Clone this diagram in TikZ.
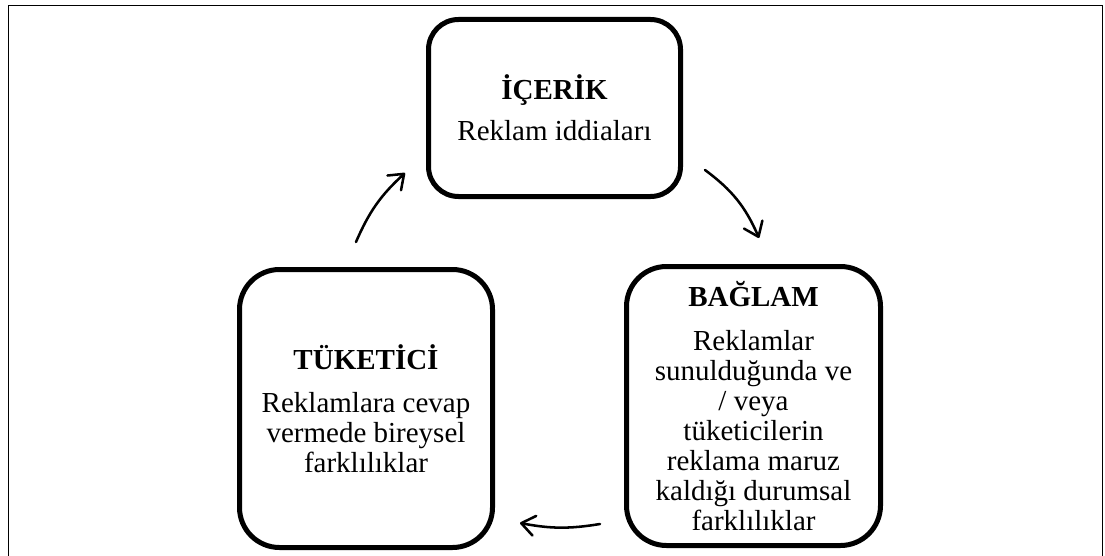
\documentclass[tikz,border=0pt]{standalone}
\usepackage{fontspec}
\setmainfont{Liberation Serif}
\usetikzlibrary{arrows.meta}
\begin{document}
\begin{tikzpicture}[x=0.75pt,y=-0.75pt,
  card/.style={draw, line width=3.75pt, rounded corners=30pt, align=center,
    inner sep=0pt, font=\fontsize{21.75}{22.5}\selectfont},
  flow/.style={line width=1.9pt, line cap=round,
    -{Straight Barb[length=10pt,width=15pt,line cap=round,line join=round]}},
  frame/.style={line width=1.1pt}
]
\useasboundingbox (0,0) rectangle (1105,556);

% outer frame, open at the bottom
\begin{scope}
  \clip (0,0) rectangle (1105,556);
  \draw[frame] (8.5,620) -- (8.5,5.5) -- (1102.5,5.5) -- (1102.5,620);
\end{scope}

% the three cards
\node[card, rounded corners=22.5pt, minimum width=189pt, minimum height=132.75pt]
  (content) at (554.5,108) {{\bfseries İÇERİK}\\[8pt]Reklam iddiaları};
\node[card, minimum width=189.75pt, minimum height=208.5pt]
  (consumer) at (366,408.5)
  {{\bfseries TÜKETİCİ}\\[10pt]Reklamlara cevap\\vermede bireysel\\farklılıklar};
\node[card, minimum width=190.5pt, minimum height=209.25pt]
  (context) at (753.5,406)
  {{\bfseries BAĞLAM}\\[10pt]Reklamlar\\sunulduğunda ve\\/ veya\\tüketicilerin\\reklama maruz\\kaldığı durumsal\\farklılıklar};

% cycle arrows
\coordinate (c1s) at (705,170);
\coordinate (c1e) at (759,238);
\coordinate (c2s) at (600,524);
\coordinate (c2e) at (520,523);
\coordinate (c3s) at (356,242);
\coordinate (c3e) at (405,173);
\draw[flow] (c1s) to[bend left=15] (c1e);
\draw[flow] (c2s) to[bend left=10] (c2e);
\draw[flow] (c3s) to[bend left=12] (c3e);
\end{tikzpicture}
\end{document}
